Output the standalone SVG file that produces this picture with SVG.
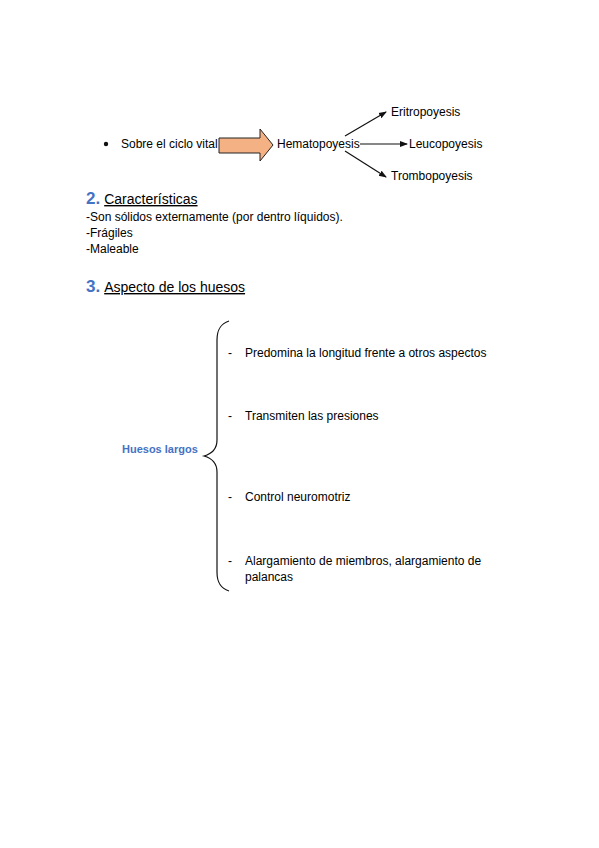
<svg xmlns="http://www.w3.org/2000/svg" width="599" height="848" viewBox="0 0 599 848">
<style>
text{font-family:"Liberation Sans",Arial,sans-serif;fill:#000;font-size:12px}
.h{font-size:14px}
.num{font-size:17px;font-weight:bold;fill:#4472C4}
.blue{fill:#4472C4;font-weight:bold;font-size:11px}
.ln{stroke:#111;stroke-width:1.2;fill:none}
</style>
<defs>
<marker id="ah" markerWidth="8" markerHeight="8" refX="7" refY="4" orient="auto" markerUnits="userSpaceOnUse">
<path d="M0,1 L8,4 L0,7 Z" fill="#111"/>
</marker>
</defs>
<rect width="599" height="848" fill="#fff"/>

<g id="ciclo">
<circle cx="106" cy="144" r="2.2" fill="#111"/>
<text x="121" y="148">Sobre el ciclo vital</text>
</g>
<g id="flecha">
<path d="M219,138 H260 V129 L273,145 L260,161 V153 H219 Z" fill="#F4B183" stroke="#222" stroke-width="1"/>
</g>
<g id="hematopoyesis"><text x="277" y="148">Hematopoyesis</text></g>
<g id="eritropoyesis"><text x="391" y="116">Eritropoyesis</text></g>
<g id="leucopoyesis"><text x="409" y="148">Leucopoyesis</text></g>
<g id="trombopoyesis"><text x="391" y="180">Trombopoyesis</text></g>

<g id="conectores">
<line class="ln" x1="345" y1="136" x2="386" y2="112" marker-end="url(#ah)"/>
<line class="ln" x1="360" y1="144" x2="407" y2="144" marker-end="url(#ah)"/>
<line class="ln" x1="345" y1="151" x2="386" y2="177" marker-end="url(#ah)"/>
</g>

<g id="caracteristicas">
<text x="86" y="204"><tspan class="num">2.</tspan><tspan class="h" dx="4" text-decoration="underline">Características</tspan></text>
<text x="86" y="221">-Son sólidos externamente (por dentro líquidos).</text>
<text x="86" y="237">-Frágiles</text>
<text x="86" y="253">-Maleable</text>
</g>

<g id="aspecto">
<text x="86" y="292"><tspan class="num">3.</tspan><tspan class="h" dx="4" text-decoration="underline">Aspecto de los huesos</tspan></text>
</g>

<g id="huesos-largos"><text class="blue" x="122" y="453">Huesos largos</text></g>

<g id="llave">
<path class="ln" d="M229,321 C220,324 217,330 217,340 V440 C217,450 211,454 204,456 C211,458 217,462 217,472 V572 C217,582 220,588 229,591" stroke-width="1.3"/>
</g>

<g id="item1"><text x="228" y="357">-</text><text x="245" y="357">Predomina la longitud frente a otros aspectos</text></g>
<g id="item2"><text x="228" y="420">-</text><text x="245" y="420">Transmiten las presiones</text></g>
<g id="item3"><text x="228" y="501">-</text><text x="245" y="501">Control neuromotriz</text></g>
<g id="item4"><text x="228" y="565">-</text><text x="245" y="565">Alargamiento de miembros, alargamiento de</text><text x="245" y="581">palancas</text></g>
</svg>
